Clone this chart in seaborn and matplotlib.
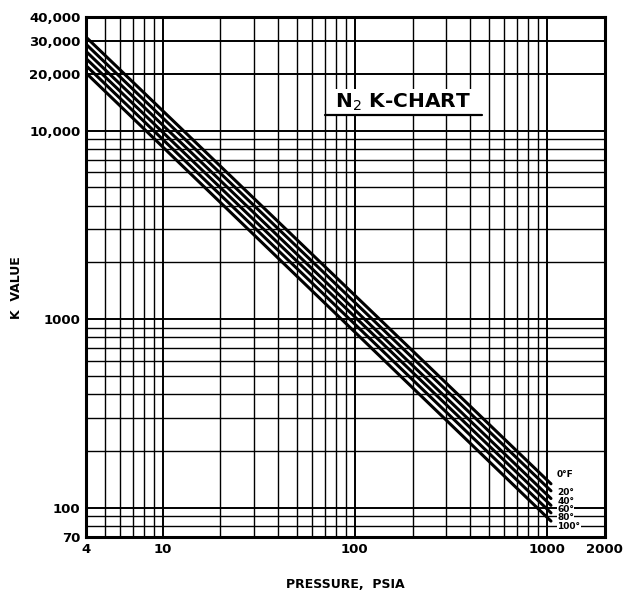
import numpy as np
import pandas as pd
import seaborn as sns
import matplotlib.pyplot as plt
from matplotlib.ticker import FixedLocator, NullFormatter, LogLocator

# K value of N2 vs pressure (straight lines on log-log paper)
temps = ['0°F', '20°', '40°', '60°', '80°', '100°']
pressure_ends = [4, 1050]
k_at_4 = [31300, 28700, 26300, 24100, 22100, 20200]
k_at_1050 = [134, 123, 112, 103, 94, 85]

xticks = [4, 10, 100, 1000, 2000]
xticklabels = ['4', '10', '100', '1000', '2000']
yticks = [70, 100, 1000, 10000, 20000, 30000, 40000]
yticklabels = ['70', '100', '1000', '10,000', '20,000', '30,000', '40,000']

rows = []
for t, k0, k1 in zip(temps, k_at_4, k_at_1050):
    rows.append({'temp': t, 'pressure': pressure_ends[0], 'k': k0})
    rows.append({'temp': t, 'pressure': pressure_ends[1], 'k': k1})
df = pd.DataFrame(rows)

sns.set_style('white')
plt.rcParams['font.family'] = ['DejaVu Sans']
plt.rcParams['text.color'] = 'black'
plt.rcParams['axes.labelcolor'] = 'black'
plt.rcParams['xtick.color'] = 'black'
plt.rcParams['ytick.color'] = 'black'

fig = plt.figure(figsize=(6.28, 5.97), dpi=100)
ax = fig.add_axes([0.137, 0.1005, 0.826, 0.871])

sns.lineplot(data=df, x='pressure', y='k', hue='temp', palette=['black'] * 6,
             linewidth=2.2, legend=False, ax=ax)

ax.set_xscale('log')
ax.set_yscale('log')
ax.set_xlim(4, 2000)
ax.set_ylim(70, 40000)

ax.xaxis.set_major_locator(FixedLocator(xticks))
ax.set_xticklabels(xticklabels)
ax.yaxis.set_major_locator(FixedLocator(yticks))
ax.set_yticklabels(yticklabels)
ax.xaxis.set_minor_locator(LogLocator(base=10, subs=np.arange(2, 10)))
ax.yaxis.set_minor_locator(LogLocator(base=10, subs=np.arange(2, 10)))
ax.xaxis.set_minor_formatter(NullFormatter())
ax.yaxis.set_minor_formatter(NullFormatter())

ax.grid(which='major', color='black', linewidth=1.4)
ax.grid(which='minor', color='black', linewidth=1.0)
ax.set_axisbelow(True)
ax.tick_params(which='both', length=0, labelsize=9.5, pad=4)
for lab in ax.get_xticklabels() + ax.get_yticklabels():
    lab.set_fontweight('bold')

for s in ax.spines.values():
    s.set_color('black')
    s.set_linewidth(2.2)

ax.set_xlabel('PRESSURE,  PSIA', fontsize=9, fontweight='bold', labelpad=16)
ax.set_ylabel('K  VALUE', fontsize=9, fontweight='bold')
ax.yaxis.set_label_coords(-0.122, 0.48)

# temperature labels at the right end of the lines
label_y = [150, 121, 108, 98, 89, 80]
for t, y in zip(temps, label_y):
    ax.text(1130, y, t, fontsize=6.5, fontweight='bold', ha='left', va='center',
            bbox=dict(facecolor='white', edgecolor='none', pad=0.3))

# title with underline
ax.text(0.61, 0.835, r'N$_2$ K-CHART', transform=ax.transAxes, fontsize=14.5,
        fontweight='bold', ha='center', va='center',
        bbox=dict(facecolor='white', edgecolor='none', pad=2))
ax.plot([0.46, 0.763], [0.812, 0.812], transform=ax.transAxes, color='black',
        linewidth=1.6, zorder=5)

fig.savefig('out.png', dpi=100)
